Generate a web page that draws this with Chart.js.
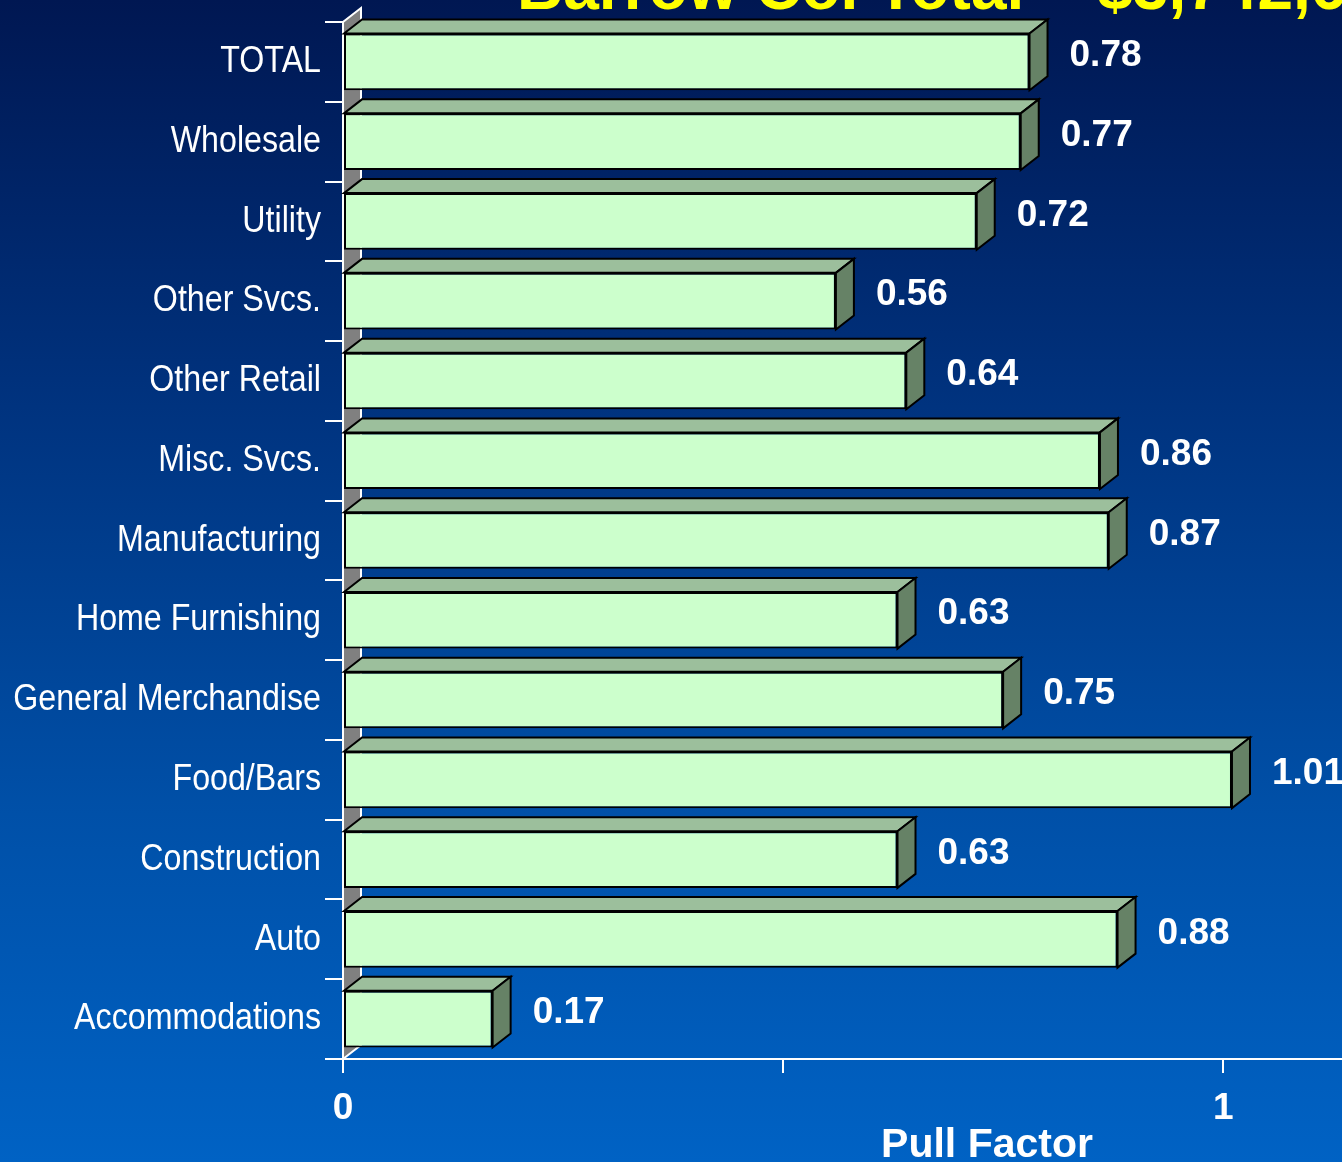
<!DOCTYPE html>
<html>
<head>
<meta charset="utf-8">
<script src="https://cdn.jsdelivr.net/npm/chart.js@4/dist/chart.umd.min.js"></script>
<style>
  html, body { margin: 0; padding: 0; background: #002a70; overflow: hidden; }
  canvas { display: block; }
</style>
</head>
<body>
<canvas id="pullChart" width="1342" height="1162"></canvas>
<script>
// data
const categories = ['TOTAL', 'Wholesale', 'Utility', 'Other Svcs.', 'Other Retail', 'Misc. Svcs.',
  'Manufacturing', 'Home Furnishing', 'General Merchandise', 'Food/Bars', 'Construction', 'Auto', 'Accommodations'];
const pullFactors = [0.78, 0.77, 0.72, 0.56, 0.64, 0.86, 0.87, 0.63, 0.75, 1.01, 0.63, 0.88, 0.17];
const xTicks = [0, 0.5, 1];
const xTickLabels = ['0', '', '1'];
const titleText = 'Barrow Co. Total = $3,742,600';
const axisTitle = 'Pull Factor';

const DX = 18, DY = 14; // 3d depth
const NARROW = 0.87;    // no Arial Narrow here, squeeze Liberation Sans instead

// background gradient + cut-off title
const backdrop = {
  id: 'backdrop',
  beforeDraw(chart) {
    const { ctx, width, height } = chart;
    const g = ctx.createLinearGradient(0, 0, 0, height);
    g.addColorStop(0, '#001752');
    g.addColorStop(0.35, '#00337f');
    g.addColorStop(0.7, '#0050a8');
    g.addColorStop(1, '#0062c4');
    ctx.save();
    ctx.fillStyle = g;
    ctx.fillRect(0, 0, width, height);
    ctx.fillStyle = '#ffff00';
    ctx.font = 'bold 64px "Liberation Sans", Arial, sans-serif';
    ctx.textBaseline = 'alphabetic';
    ctx.fillText(titleText, 517, 9);
    ctx.restore();
  }
};

// grey side wall behind the bars
const wall = {
  id: 'wall',
  beforeDatasetsDraw(chart) {
    const { ctx, chartArea: a } = chart;
    ctx.save();
    ctx.beginPath();
    ctx.moveTo(a.left, a.bottom);
    ctx.lineTo(a.left + DX, a.bottom - DY);
    ctx.lineTo(a.left + DX, a.top - DY);
    ctx.lineTo(a.left, a.top);
    ctx.closePath();
    ctx.fillStyle = '#808080';
    ctx.fill();
    ctx.strokeStyle = '#ffffff';
    ctx.lineWidth = 2;
    ctx.stroke();
    ctx.restore();
  }
};

// top and side faces, value labels, category labels
const bars3d = {
  id: 'bars3d',
  afterDatasetsDraw(chart) {
    const { ctx } = chart;
    const meta = chart.getDatasetMeta(0);
    ctx.save();
    ctx.lineWidth = 2;
    ctx.strokeStyle = '#000';
    meta.data.forEach((el, i) => {
      const x0 = el.base, x1 = el.x;
      const yt = el.y - el.height / 2, yb = el.y + el.height / 2;
      // top face
      ctx.beginPath();
      ctx.moveTo(x0, yt);
      ctx.lineTo(x0 + DX, yt - DY);
      ctx.lineTo(x1 + DX, yt - DY);
      ctx.lineTo(x1, yt);
      ctx.closePath();
      ctx.fillStyle = '#9cbf9c';
      ctx.fill();
      ctx.stroke();
      // side face
      ctx.beginPath();
      ctx.moveTo(x1, yt);
      ctx.lineTo(x1 + DX, yt - DY);
      ctx.lineTo(x1 + DX, yb - DY);
      ctx.lineTo(x1, yb);
      ctx.closePath();
      ctx.fillStyle = '#668266';
      ctx.fill();
      ctx.stroke();
      // value
      ctx.fillStyle = '#ffffff';
      ctx.font = 'bold 37px "Liberation Sans", Arial, sans-serif';
      ctx.textAlign = 'left';
      ctx.textBaseline = 'middle';
      ctx.fillText(pullFactors[i].toFixed(2), x1 + 40, el.y - 6);
    });

    // category labels, condensed
    const ys = chart.scales.y;
    ctx.font = '37px "Liberation Sans", Arial, sans-serif';
    ctx.textAlign = 'right';
    ctx.textBaseline = 'middle';
    ctx.fillStyle = '#ffffff';
    categories.forEach((c, i) => {
      ctx.save();
      ctx.translate(ys.right - 22, ys.getPixelForTick(i));
      ctx.scale(NARROW, 1);
      ctx.fillText(c, 0, 0);
      ctx.restore();
    });

    // axis title
    ctx.font = 'bold 41px "Liberation Sans", Arial, sans-serif';
    ctx.textAlign = 'center';
    ctx.textBaseline = 'alphabetic';
    ctx.fillText(axisTitle, 987, 1157);
    ctx.restore();
  }
};

new Chart(document.getElementById('pullChart'), {
  type: 'bar',
  data: {
    labels: categories,
    datasets: [{
      data: pullFactors,
      backgroundColor: '#ccffcc',
      borderColor: '#000000',
      borderWidth: 2,
      borderSkipped: false,
      barPercentage: 0.71,
      categoryPercentage: 1
    }]
  },
  options: {
    indexAxis: 'y',
    responsive: false,
    animation: false,
    layout: { padding: { top: 22, right: 0, bottom: 0, left: 0 } },
    plugins: {
      legend: { display: false },
      tooltip: { enabled: false }
    },
    scales: {
      x: {
        min: 0,
        max: 1.135,
        afterBuildTicks: s => { s.ticks = xTicks.map(v => ({ value: v })); },
        afterFit: s => { s.height = 103; },
        border: { display: true, color: '#ffffff', width: 2 },
        grid: { drawOnChartArea: false, drawTicks: true, tickLength: 14, color: '#ffffff', lineWidth: 2 },
        ticks: {
          color: '#ffffff',
          padding: 14,
          maxRotation: 0,
          autoSkip: false,
          font: { family: '"Liberation Sans", Arial, sans-serif', size: 37, weight: 'bold' },
          callback: (v, i) => xTickLabels[i]
        }
      },
      y: {
        afterFit: s => { s.width = 343; },
        border: { display: true, color: '#ffffff', width: 2 },
        grid: { drawOnChartArea: false, drawTicks: true, tickLength: 18, color: '#ffffff', lineWidth: 2, offset: true },
        ticks: { display: false, autoSkip: false }
      }
    }
  },
  plugins: [backdrop, wall, bars3d]
});
</script>
</body>
</html>
